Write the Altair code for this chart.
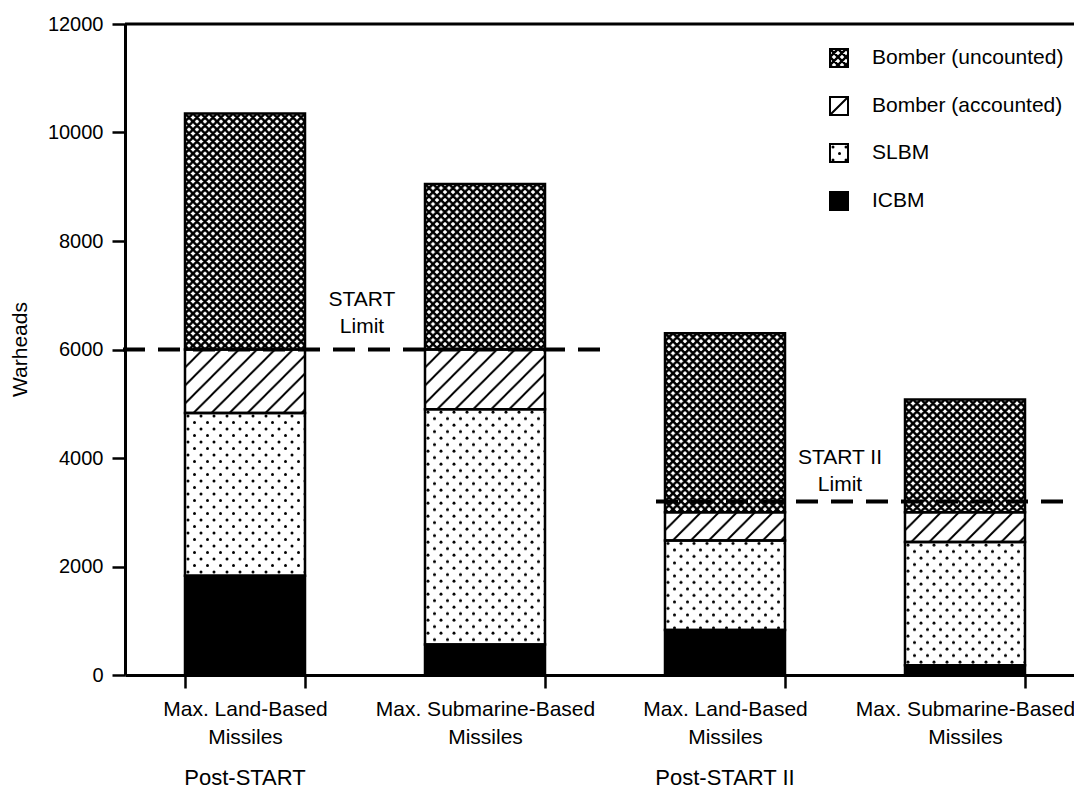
import base64
import altair as alt
import pandas as pd

# ---------------- data ----------------
groups = ["Post-START", "Post-START", "Post-START II", "Post-START II"]
bar_names = [["Max. Land-Based", "Missiles"], ["Max. Submarine-Based", "Missiles"],
             ["Max. Land-Based", "Missiles"], ["Max. Submarine-Based", "Missiles"]]
series = ["ICBM", "SLBM", "Bomber (accounted)", "Bomber (uncounted)"]   # bottom -> top
icbm = [1830, 560, 830, 180]
slbm = [3000, 4340, 1650, 2270]
bomber_accounted = [1170, 1100, 520, 550]
bomber_uncounted = [4350, 3050, 3300, 2080]
y_ticks = [0, 2000, 4000, 6000, 8000, 10000, 12000]
limit_names = ["START", "START II"]
limit_values = [6000, 3200]
legend_order = ["Bomber (uncounted)", "Bomber (accounted)", "SLBM", "ICBM"]

# ---------------- table built from the arrays ----------------
keys = [f"{g}~{a}~{b}" for g, (a, b) in zip(groups, bar_names)]
values = {"ICBM": icbm, "SLBM": slbm,
          "Bomber (accounted)": bomber_accounted, "Bomber (uncounted)": bomber_uncounted}
rows = []
for i, k in enumerate(keys):
    cum = 0
    for s in series:
        v = values[s][i]
        rows.append({"bar": k, "series": s, "y0": cum, "y1": cum + v})
        cum += v
df = pd.DataFrame(rows)
limit_df = pd.DataFrame({"treaty": limit_names, "limit": limit_values})
group_df = pd.DataFrame({"bar": [keys[0], keys[2]], "group": [groups[0], groups[2]]})

# ---------------- fill patterns (styles) ----------------
def svg_pattern(inner, w, h):
    svg = ("<svg xmlns='http://www.w3.org/2000/svg' width='100%' height='100%'>"
           f"<defs><pattern id='p' width='{w}' height='{h}' patternUnits='userSpaceOnUse'>{inner}</pattern></defs>"
           "<rect width='100%' height='100%' fill='url(#p)'/></svg>")
    return "data:image/svg+xml;base64," + base64.b64encode(svg.encode()).decode()

cross_url = svg_pattern("<path d='M-1,-1L9,9M9,-1L-1,9M7,-1L9,1M-1,7L1,9M-1,1L1,-1M7,9L9,7' "
                        "stroke='#000' stroke-width='2.4' fill='none'/>", 8, 8)
hatch_url = svg_pattern("<path d='M-1,19L19,-1M-2,2L2,-2M16,20L20,16' stroke='#000' "
                        "stroke-width='2' fill='none'/>", 18, 18)
dots_url = svg_pattern("<circle cx='3' cy='3' r='1.5' fill='#000'/>"
                       "<circle cx='9.5' cy='9.5' r='1.5' fill='#000'/>", 13, 13)
pattern_of = {"Bomber (uncounted)": cross_url, "Bomber (accounted)": hatch_url, "SLBM": dots_url}

FONT = "Liberation Sans, Arial, Helvetica, sans-serif"

x_scale = alt.Scale(domain=keys, range=[0, 960], paddingInner=0.5, paddingOuter=0.25)
x_enc = alt.X("bar:N", scale=x_scale, title=None,
              axis=alt.Axis(labelExpr="slice(split(datum.label, '~'), 1)", labelFontSize=21,
                            labelLineHeight=28, labelPadding=10, labelAngle=0, tickBand="extent",
                            tickSize=13, tickWidth=2.5, domainWidth=3, domainColor="black",
                            tickColor="black", labelColor="black", labelOverlap=False,
                            labelFlush=False, labelLimit=400, grid=False))
y_scale = alt.Scale(domain=[0, 12000], nice=False)
y_enc = alt.Y("y0:Q", scale=y_scale, title="Warheads",
              axis=alt.Axis(values=y_ticks, format="d", labelFontSize=20, labelPadding=9,
                            tickSize=13, tickWidth=2.5, domainWidth=3, domainColor="black",
                            tickColor="black", labelColor="black", grid=False,
                            titleFontSize=21, titleFontWeight="normal", titleColor="black",
                            titleX=-105, titleY=325, titleAngle=270, titleAlign="center",
                            titleBaseline="middle"))

base = alt.Chart(df)
layers = []
layers.append(base.mark_bar().encode(
    x=x_enc, y=y_enc, y2="y1:Q",
    fill=alt.Fill("series:N", scale=alt.Scale(domain=series, range=["#000000", "#ffffff", "#ffffff", "#ffffff"]),
                  legend=None)))
for s, u in pattern_of.items():
    layers.append(base.transform_filter(alt.datum.series == s).mark_image(aspect=False).encode(
        x=x_enc, y=y_enc, y2="y1:Q", url=alt.value(u)))
layers.append(base.mark_bar(fillOpacity=0, stroke="black", strokeWidth=2.5).encode(
    x=x_enc, y=y_enc, y2="y1:Q"))

# top frame line at 12000
layers.append(alt.Chart(pd.DataFrame({"top": [12000]})).mark_rule(color="black", strokeWidth=3).encode(
    y=alt.Y("top:Q", scale=y_scale, title="Warheads"), x=alt.value(0), x2=alt.value(960)))

# treaty limits
limit_span = {"START": (-2, 475), "START II": (531, 960)}
for name in limit_names:
    a, b = limit_span[name]
    layers.append(alt.Chart(limit_df).transform_filter(alt.datum.treaty == name).mark_rule(
        color="black", strokeWidth=4, strokeDash=[22, 13]).encode(
        y=alt.Y("limit:Q", scale=y_scale, title="Warheads"), x=alt.value(a), x2=alt.value(b)))

label_pos = {"START": (237, 276, 303), "START II": (715, 434, 461)}
for name in limit_names:
    px, y1, y2 = label_pos[name]
    for txt, py in [(name, y1), ("Limit", y2)]:
        layers.append(alt.Chart(pd.DataFrame({"t": [txt]})).mark_text(
            fontSize=21, color="black", align="center", baseline="middle").encode(
            text="t:N", x=alt.value(px), y=alt.value(py)))

# group labels under the axis
layers.append(alt.Chart(group_df).mark_text(fontSize=22, color="black", baseline="middle").encode(
    x=x_enc, y=alt.value(754), text="group:N"))

# legend
legend_y = [34, 82, 129, 177]
for s, cy in zip(legend_order, legend_y):
    one = alt.Chart(pd.DataFrame({"name": [s]}))
    layers.append(one.mark_rect(fill="#000000" if s == "ICBM" else "#ffffff", stroke="black",
                                strokeWidth=2).encode(
        x=alt.value(705), x2=alt.value(723), y=alt.value(cy - 9), y2=alt.value(cy + 9)))
    if s in pattern_of:
        layers.append(one.mark_image(aspect=False).encode(
            x=alt.value(705), x2=alt.value(723), y=alt.value(cy - 9), y2=alt.value(cy + 9),
            url=alt.value(pattern_of[s])))
        layers.append(one.mark_rect(fillOpacity=0, stroke="black", strokeWidth=2).encode(
            x=alt.value(705), x2=alt.value(723), y=alt.value(cy - 9), y2=alt.value(cy + 9)))
    layers.append(one.mark_text(fontSize=21, color="black", align="left", baseline="middle").encode(
        text="name:N", x=alt.value(747), y=alt.value(cy)))

chart = alt.layer(*layers).properties(
    width=949, height=651,
    autosize=alt.AutoSizeParams(type="none"),
    padding={"left": 117, "top": 16, "right": 0, "bottom": 121},
    background="white",
).configure(font=FONT).configure_view(stroke=None)

chart.save("out.html", embed_options={"renderer": "svg", "actions": False})
